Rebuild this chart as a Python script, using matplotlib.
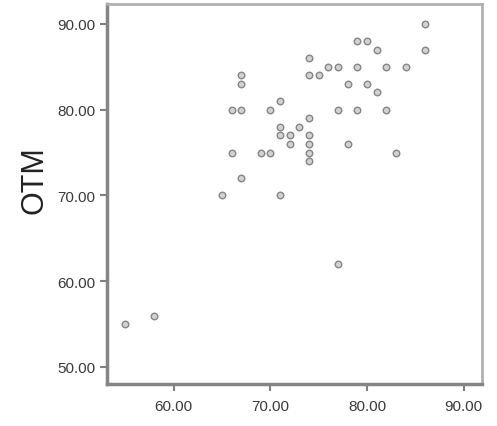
import matplotlib
matplotlib.use('Agg')
import matplotlib.pyplot as plt

# Dati (asse x senza etichetta, asse y = OTM)
x_vals = [55, 58, 65, 66, 66, 67, 67, 67, 67, 69, 70, 70, 71, 71, 71, 71, 72, 72, 73,
          74, 74, 74, 74, 74, 74, 74, 75, 76, 77, 77, 77, 78, 78, 79, 79, 79, 80, 80, 81,
          81, 82, 82, 83, 84, 86, 86]
otm_vals = [55, 56, 70, 75, 80, 80, 84, 83, 72, 75, 75, 80, 81, 70, 78, 77, 77, 76, 78,
            86, 84, 79, 77, 76, 75, 74, 84, 85, 85, 80, 62, 83, 76, 88, 85, 80, 88, 83, 87,
            82, 85, 80, 75, 85, 90, 87]

x_ticks = [60, 70, 80, 90]
y_ticks = [50, 60, 70, 80, 90]


def makePlot():

    plt.rcParams['font.family'] = ['Liberation Sans', 'DejaVu Sans']

    fig = plt.figure(figsize=(4.97, 4.27), dpi=100)
    ax = fig.add_axes([0.215, 0.098, 0.755, 0.89])

    ax.scatter(x_vals, otm_vals, s=22, marker='o', facecolor='#d2d2d2',
               edgecolor='#858585', linewidth=1.0, zorder=3)

    ax.set_xlim(53.1, 91.9)
    ax.set_ylim(48.0, 92.3)

    ax.set_xticks(x_ticks)
    ax.set_xticklabels([f'{v:.2f}' for v in x_ticks])
    ax.set_yticks(y_ticks)
    ax.set_yticklabels([f'{v:.2f}' for v in y_ticks])

    ax.tick_params(axis='both', labelsize=11, labelcolor='#3a3a3a', color='#808080',
                   width=1.5, length=5)
    ax.tick_params(axis='x', pad=6)

    for side in ['left', 'bottom']:
        ax.spines[side].set_color('#858585')
        ax.spines[side].set_linewidth(2.5)
    for side in ['top', 'right']:
        ax.spines[side].set_color('#b0b0b0')
        ax.spines[side].set_linewidth(2.0)

    ax.set_ylabel('OTM', fontsize=22, color='#222222', va='center')
    ax.yaxis.set_label_coords(-0.192, 0.54)

    fig.savefig('out.png', dpi=100)


if __name__ == '__main__':
    makePlot()
